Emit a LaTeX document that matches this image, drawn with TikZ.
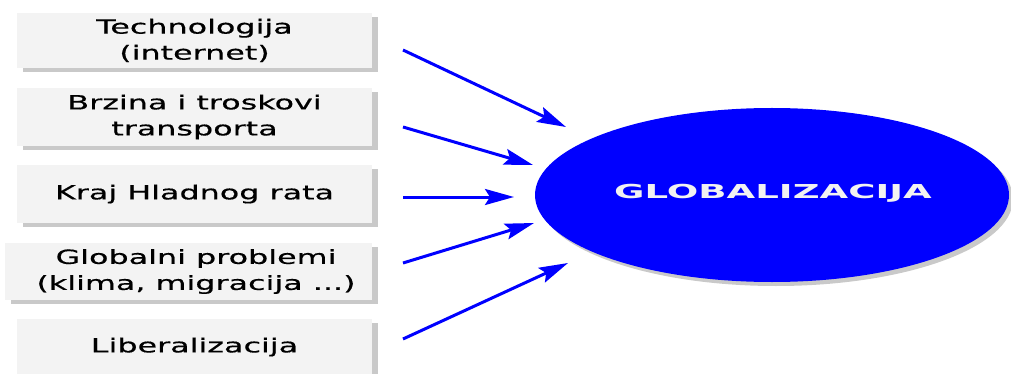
\documentclass[tikz,border=0pt]{standalone}
\usepackage{fontspec}
\usetikzlibrary{arrows.meta,shadows,shapes.geometric}
\newfontfamily\boxfont[FakeStretch=1.63,FakeBold=0.5]{DejaVu Sans}
\newfontfamily\globfont[FakeStretch=1.93]{DejaVu Sans}
\definecolor{boxfill}{HTML}{F3F3F3}
\definecolor{boxshadow}{HTML}{C9C9C9}
\definecolor{arrowblue}{HTML}{0000FF}
\definecolor{globtext}{HTML}{F2F2F2}
\begin{document}
\begin{tikzpicture}[x=1pt,y=-1pt,
  factor/.style={rectangle, fill=boxfill, inner sep=0pt, minimum height=57pt,
    align=center, font=\boxfont\fontsize{19.5}{26}\selectfont, text=black,
    drop shadow={shadow xshift=6pt, shadow yshift=-4pt, fill=boxshadow, opacity=1}},
  push/.style={draw=arrowblue, line width=3pt,
    -{Stealth[length=29pt, width=16pt, inset=5pt]}},
  core/.style={ellipse, fill=arrowblue, inner sep=0pt}
]
\useasboundingbox (0,0) rectangle (1011,374);
% boxes
\node[factor, minimum width=355pt, minimum height=55pt] (b1) at (194.5,40.5) {Technologija\\(internet)};
\node[factor, minimum width=355pt, minimum height=58pt] (b2) at (194.5,117) {Brzina i troskovi\\transporta};
\node[factor, minimum width=355pt, minimum height=58pt] (b3) at (194.5,194) {Kraj Hladnog rata};
\node[factor, minimum width=367pt, minimum height=57pt] (b4) at (188.5,271.5) {\hspace*{15pt}Globalni problemi\\\hspace*{15pt}(klima, migracija ...)};
\node[factor, minimum width=355pt, minimum height=56pt] (b5) at (194.5,347) {Liberalizacija};
% ellipse with shadow
\fill[boxshadow] (776,199) ellipse [x radius=237pt, y radius=87pt];
\node[core, minimum width=474pt, minimum height=174pt] (g) at (772,195) {};
\node[text=globtext, font=\globfont\bfseries\fontsize{19.2}{23}\selectfont, inner sep=0pt] (gt) at (773,193) {GLOBALIZACIJA};
% arrow ends
\coordinate (s1) at (403,50);  \coordinate (e1) at (566,127);
\coordinate (s2) at (403,127); \coordinate (e2) at (533,165);
\coordinate (s3) at (403,197); \coordinate (e3) at (514,197);
\coordinate (s4) at (403,263); \coordinate (e4) at (534,223);
\coordinate (s5) at (403,339); \coordinate (e5) at (568,263);
\draw[push] (s1) -- (e1);
\draw[push] (s2) -- (e2);
\draw[push] (s3) -- (e3);
\draw[push] (s4) -- (e4);
\draw[push] (s5) -- (e5);
\end{tikzpicture}
\end{document}
